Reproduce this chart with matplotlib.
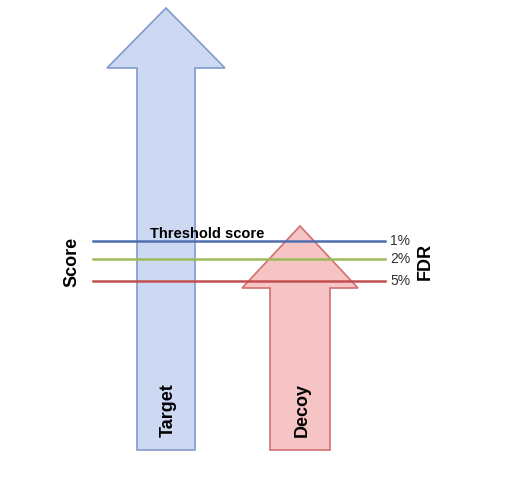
import matplotlib
matplotlib.use("Agg")
import matplotlib.pyplot as plt
from matplotlib.patches import Polygon

plt.rcParams['font.family'] = ['Liberation Sans', 'DejaVu Sans']

fdr_labels = ["1%", "2%", "5%"]
fdr_levels = [241, 259, 281]
fdr_colors = ["#4f6fb0", "#9bbb59", "#c0504d"]
arrow_names = ["Target", "Decoy"]

fig = plt.figure(figsize=(5.05, 4.79), dpi=100)
ax = fig.add_axes([0, 0, 1, 1])
ax.set_xlim(0, 505)
ax.set_ylim(479, 0)
ax.axis("off")

def arrow(x0, x1, hx0, hx1, bottom, neck, tip, fc, ec):
    cx = (hx0 + hx1) / 2
    pts = [(x0, bottom), (x0, neck), (hx0, neck), (cx, tip), (hx1, neck), (x1, neck), (x1, bottom)]
    ax.add_patch(Polygon(pts, closed=True, facecolor=fc, edgecolor=ec, lw=1.2, zorder=1))

arrow(137, 195, 107, 225, 450, 68, 8, "#cdd9f2", "#7f9bcf")
arrow(270, 330, 242, 358, 450, 288, 226, "#f6c4c4", "#d07070")

for lvl, lab, c in zip(fdr_levels, fdr_labels, fdr_colors):
    ax.plot([93, 385], [lvl, lvl], color=c, lw=1.8, zorder=2)
    ax.text(390, lvl, lab, va="center", ha="left", fontsize=10, color="#333333")

ax.text(150, 234, "Threshold score", fontsize=10.5, fontweight="bold", ha="left", va="center", zorder=3)
ax.text(425, 261, "FDR", rotation=90, fontsize=13, fontweight="bold", ha="center", va="center")
ax.text(72, 262, "Score", rotation=90, fontsize=13, fontweight="bold", ha="center", va="center")
ax.text(168, 410, arrow_names[0], rotation=90, fontsize=13, fontweight="bold", ha="center", va="center")
ax.text(302, 410, arrow_names[1], rotation=90, fontsize=13, fontweight="bold", ha="center", va="center")

fig.savefig("out.png", dpi=100)
